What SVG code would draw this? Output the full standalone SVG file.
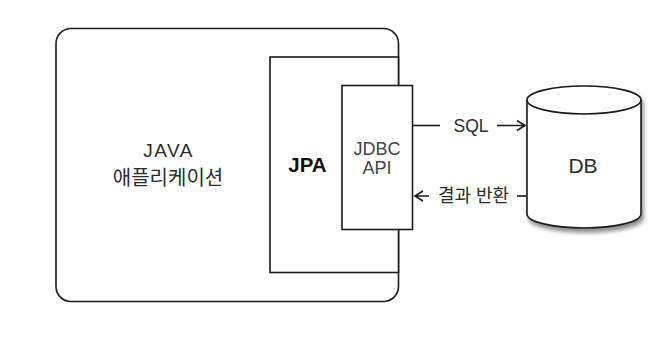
<svg xmlns="http://www.w3.org/2000/svg" width="672" height="348" viewBox="0 0 672 348">
  <style>
    .box { fill: #ffffff; stroke: #1a1a1a; stroke-width: 1.6; }
    .edge { fill: none; stroke: #1a1a1a; stroke-width: 1.6; }
    .txt { font-family: "Liberation Sans", "Noto Sans CJK KR", sans-serif; fill: #2a2a2a; text-anchor: middle; }
  </style>
  <defs>
    <filter id="shadow" x="-20%" y="-20%" width="140%" height="150%">
      <feGaussianBlur in="SourceAlpha" stdDeviation="2"/>
      <feOffset dx="2" dy="4" result="b"/>
      <feComponentTransfer><feFuncA type="linear" slope="0.45"/></feComponentTransfer>
      <feMerge><feMergeNode/><feMergeNode in="SourceGraphic"/></feMerge>
    </filter>
  </defs>
  <rect width="672" height="348" fill="#ffffff"/>

  <g id="node-java">
    <rect class="box" x="56" y="28.5" width="342.5" height="273" rx="15" ry="15"/>
    <text class="txt" x="168.5" y="157" font-size="19" letter-spacing="1.5">JAVA</text>
    <text class="txt" x="168" y="185" font-size="20">애플리케이션</text>
  </g>

  <g id="node-jpa">
    <rect class="box" x="270" y="57" width="128.5" height="215.5"/>
    <text class="txt" x="307.5" y="171.5" font-size="20.5" font-weight="bold" style="fill:#111">JPA</text>
  </g>

  <g id="node-jdbc">
    <rect class="box" x="342" y="85.5" width="70.5" height="144"/>
    <text class="txt" x="377" y="154.5" font-size="18" style="fill:#444">JDBC</text>
    <text class="txt" x="377" y="174" font-size="18" style="fill:#444">API</text>
  </g>

  <g id="node-db">
    <path class="box" filter="url(#shadow)" d="M527,100 A57,14 0 0,1 641,100 L641,214 A57,14 0 0,1 527,214 Z"/>
    <path class="edge" d="M527,100 A57,14 0 0,0 641,100"/>
    <text class="txt" x="583" y="173" font-size="21">DB</text>
  </g>

  <g id="connectors">
    <path class="edge" d="M412.5,125.5 H440"/>
    <path class="edge" d="M497,125.5 H525 M517,120.5 L525,125.5 L517,130.5"/>
    <text class="txt" x="471" y="131.5" font-size="17.5">SQL</text>

    <path class="edge" d="M526,196 H517"/>
    <path class="edge" d="M415,196 H429 M423,191 L415,196 L423,201"/>
    <text class="txt" x="473.5" y="202" font-size="18">결과 반환</text>
  </g>
</svg>
